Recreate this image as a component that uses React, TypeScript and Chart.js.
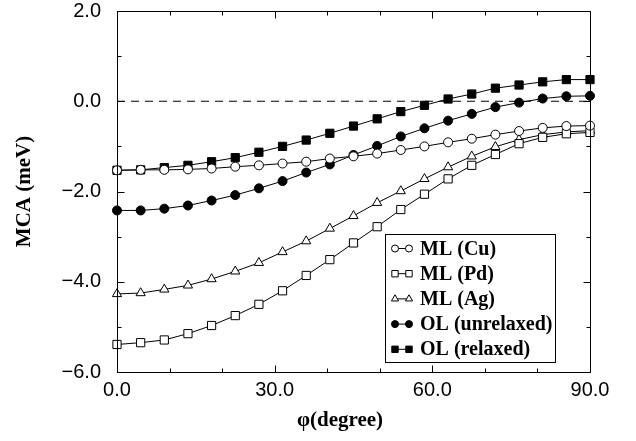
import { useEffect, useRef } from 'react';
import { Chart, registerables } from 'chart.js';

Chart.register(...registerables);

const angles = [0, 4.5, 9, 13.5, 18, 22.5, 27, 31.5, 36, 40.5, 45, 49.5, 54, 58.5, 63, 67.5, 72, 76.5, 81, 85.5, 90];

const mlCu = [-1.53, -1.52, -1.52, -1.51, -1.49, -1.45, -1.42, -1.38, -1.34, -1.27, -1.22, -1.16, -1.08, -1.0, -0.91, -0.83, -0.74, -0.66, -0.59, -0.55, -0.54];
const mlPd = [-5.39, -5.35, -5.29, -5.15, -4.97, -4.75, -4.5, -4.2, -3.86, -3.51, -3.14, -2.78, -2.4, -2.06, -1.72, -1.42, -1.18, -0.94, -0.8, -0.72, -0.69];
const mlAg = [-4.27, -4.25, -4.17, -4.08, -3.94, -3.77, -3.58, -3.34, -3.1, -2.82, -2.54, -2.25, -1.99, -1.72, -1.46, -1.22, -1.01, -0.85, -0.74, -0.68, -0.65];
const olUnrelaxed = [-2.42, -2.42, -2.38, -2.31, -2.2, -2.08, -1.93, -1.77, -1.58, -1.4, -1.19, -0.99, -0.78, -0.6, -0.43, -0.28, -0.13, -0.03, 0.06, 0.11, 0.12];
const olRelaxed = [-1.53, -1.52, -1.47, -1.42, -1.34, -1.25, -1.13, -1.0, -0.86, -0.71, -0.55, -0.39, -0.23, -0.09, 0.05, 0.16, 0.29, 0.36, 0.43, 0.48, 0.48];

const zeroLineX = [0, 90];
const zeroLineY = [0, 0];

const seriesLabels = ['ML (Cu)', 'ML (Pd)', 'ML (Ag)', 'OL (unrelaxed)', 'OL (relaxed)'];
const xTitle = 'φ(degree)';
const yTitle = 'MCA (meV)';

const X_MIN = 0, X_MAX = 90, X_STEP = 30, X_MINOR = 10;
const Y_MIN = -6, Y_MAX = 2, Y_STEP = 2, Y_MINOR = 1;

const SERIF = '"Liberation Serif", "Times New Roman", serif';
const SANS = '"Liberation Sans", Arial, sans-serif';

type Style = { point: string; fill: string; radius: number };
const styles: Style[] = [
  { point: 'circle', fill: '#ffffff', radius: 4.5 },
  { point: 'rect', fill: '#ffffff', radius: 5.8 },
  { point: 'triangle', fill: '#ffffff', radius: 5.3 },
  { point: 'circle', fill: '#000000', radius: 4.5 },
  { point: 'rect', fill: '#000000', radius: 5.8 },
];

function drawMarker(ctx: CanvasRenderingContext2D, s: Style, x: number, y: number, r: number) {
  ctx.beginPath();
  if (s.point === 'circle') {
    ctx.arc(x, y, r, 0, Math.PI * 2);
  } else if (s.point === 'rect') {
    const h = r * Math.SQRT1_2;
    ctx.rect(x - h, y - h, 2 * h, 2 * h);
  } else {
    for (let i = 0; i < 3; i++) {
      const a = (i * 2 * Math.PI) / 3;
      const px = x + Math.sin(a) * r;
      const py = y - Math.cos(a) * r;
      if (i === 0) ctx.moveTo(px, py);
      else ctx.lineTo(px, py);
    }
    ctx.closePath();
  }
  ctx.fillStyle = s.fill;
  ctx.fill();
  ctx.strokeStyle = '#000';
  ctx.lineWidth = 1;
  ctx.stroke();
}

const decorPlugin = {
  id: 'decor',
  afterDatasetsDraw(chart: any) {
    const ctx: CanvasRenderingContext2D = chart.ctx;
    const a = chart.chartArea;
    const xs = chart.scales.x;
    const ys = chart.scales.y;
    ctx.save();
    ctx.strokeStyle = '#000';
    ctx.lineWidth = 1;
    const L = Math.round(a.left) + 0.5;
    const R = Math.round(a.right) + 0.5;
    const T = Math.round(a.top) + 0.5;
    const B = Math.round(a.bottom) + 0.5;
    ctx.strokeRect(L, T, R - L, B - T);
    ctx.beginPath();
    for (let v = X_MIN; v <= X_MAX; v += X_MINOR) {
      const px = Math.round(xs.getPixelForValue(v)) + 0.5;
      const len = v % X_STEP === 0 ? 7 : 4;
      ctx.moveTo(px, B);
      ctx.lineTo(px, B - len);
      ctx.moveTo(px, T);
      ctx.lineTo(px, T + len);
    }
    for (let v = Y_MIN; v <= Y_MAX; v += Y_MINOR) {
      const py = Math.round(ys.getPixelForValue(v)) + 0.5;
      const len = v % Y_STEP === 0 ? 7 : 4;
      ctx.moveTo(L, py);
      ctx.lineTo(L + len, py);
      ctx.moveTo(R, py);
      ctx.lineTo(R - len, py);
    }
    ctx.stroke();

    // axis titles
    ctx.fillStyle = '#000';
    ctx.font = `bold 21px ${SERIF}`;
    ctx.textAlign = 'center';
    ctx.textBaseline = 'middle';
    ctx.fillText(xTitle, 340, 421);
    ctx.save();
    ctx.translate(25, (a.top + a.bottom) / 2);
    ctx.rotate(-Math.PI / 2);
    ctx.fillText(yTitle, 0, 0);
    ctx.restore();

    // legend
    const bx = 385.5, by = 234.5, bw = 170, bh = 128;
    ctx.fillStyle = '#fff';
    ctx.fillRect(bx, by, bw, bh);
    ctx.strokeRect(bx, by, bw, bh);
    ctx.font = `bold 20px ${SERIF}`;
    ctx.textAlign = 'left';
    ctx.textBaseline = 'middle';
    seriesLabels.forEach((lab, i) => {
      const cy = 248.5 + i * 25.2;
      ctx.beginPath();
      ctx.moveTo(395, cy);
      ctx.lineTo(409, cy);
      ctx.strokeStyle = '#000';
      ctx.stroke();
      drawMarker(ctx, styles[i], 395, cy, styles[i].radius * 0.78);
      drawMarker(ctx, styles[i], 409, cy, styles[i].radius * 0.78);
      ctx.fillStyle = '#000';
      ctx.fillText(lab, 420, cy + 1);
    });
    ctx.restore();
  },
};

const seriesValues = [mlCu, mlPd, mlAg, olUnrelaxed, olRelaxed];

export default function App() {
  const ref = useRef<HTMLCanvasElement | null>(null);
  useEffect(() => {
    if (!ref.current) return;
    const datasets: any[] = seriesValues.map((vals, i) => ({
      label: seriesLabels[i],
      data: angles.map((x, j) => ({ x, y: vals[j] })),
      borderColor: '#000',
      borderWidth: 1,
      pointStyle: styles[i].point,
      pointRadius: styles[i].radius,
      pointBackgroundColor: styles[i].fill,
      pointBorderColor: '#000',
      pointBorderWidth: 1,
      tension: 0,
      clip: false,
    }));
    datasets.push({
      label: 'zero',
      data: zeroLineX.map((x, j) => ({ x, y: zeroLineY[j] })),
      borderColor: '#000',
      borderWidth: 1,
      borderDash: [8, 6],
      pointRadius: 0,
      tension: 0,
    });
    const chart = new Chart(ref.current, {
      type: 'line',
      data: { datasets },
      options: {
        animation: false,
        responsive: false,
        devicePixelRatio: 1,
        layout: { autoPadding: false, padding: { left: 0, top: 11, right: 46, bottom: 0 } },
        plugins: { legend: { display: false }, tooltip: { enabled: false } },
        scales: {
          x: {
            type: 'linear',
            min: X_MIN,
            max: X_MAX,
            grid: { display: false, drawTicks: false },
            border: { display: false },
            ticks: {
              stepSize: X_STEP,
              padding: 8,
              color: '#000',
              font: { family: SANS, size: 20, lineHeight: 1 },
              maxRotation: 0,
              callback: (v: any) => Number(v).toFixed(1),
            },
            afterFit: (s: any) => {
              s.height = 69;
              s.paddingLeft = 0;
              s.paddingRight = 0;
            },
          },
          y: {
            type: 'linear',
            min: Y_MIN,
            max: Y_MAX,
            grid: { display: false, drawTicks: false },
            border: { display: false },
            ticks: {
              stepSize: Y_STEP,
              padding: 16,
              color: '#000',
              font: { family: SANS, size: 20, lineHeight: 1 },
              callback: (v: any) => {
                const n = Number(v);
                const s = Math.abs(n).toFixed(1);
                return n < 0 ? '\u2212' + s : s;
              },
            },
            afterFit: (s: any) => {
              s.width = 117;
              s.paddingTop = 0;
              s.paddingBottom = 0;
            },
          },
        },
      },
      plugins: [decorPlugin],
    });
    return () => chart.destroy();
  }, []);
  return (
    <div style={{ position: 'absolute', left: 0, top: 0, width: 636, height: 441, background: '#fff' }}>
      <canvas ref={ref} width={636} height={441} style={{ display: 'block' }} />
    </div>
  );
}
